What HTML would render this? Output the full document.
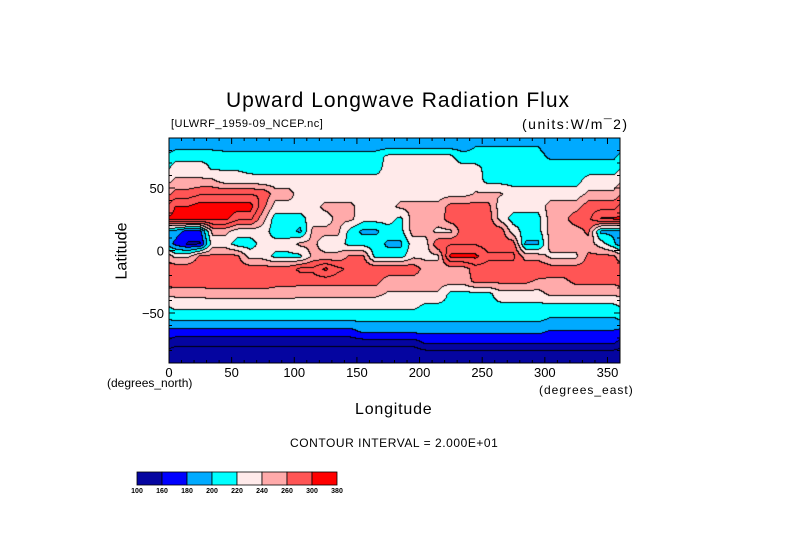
<!DOCTYPE html>
<html><head><meta charset="utf-8"><style>
body{margin:0;background:#fff;width:789px;height:558px;overflow:hidden;position:relative;font-family:"Liberation Sans",sans-serif;color:#000}
.t{position:absolute;white-space:nowrap;line-height:1}
</style></head><body>
<div class="t" style="left:226px;top:90px;font-size:21px;letter-spacing:1px">Upward Longwave Radiation Flux</div>
<div class="t" style="left:171px;top:119px;font-size:11px;letter-spacing:0.5px">[ULWRF_1959-09_NCEP.nc]</div>
<div class="t" style="left:522px;top:117px;font-size:14px;letter-spacing:1.5px">(units:W/m¯2)</div>
<div class="t" style="left:85px;top:243px;font-size:16px;transform:rotate(-90deg);transform-origin:center;width:75px;text-align:center">Latitude</div>
<div class="t" style="left:355px;top:402px;font-size:16px;letter-spacing:0.8px">Longitude</div>
<div class="t" style="left:107px;top:377px;font-size:12px">(degrees_north)</div>
<div class="t" style="left:539px;top:384px;font-size:12px;letter-spacing:1px">(degrees_east)</div>
<div class="t" style="left:290px;top:437px;font-size:12px;letter-spacing:0.55px">CONTOUR INTERVAL = 2.000E+01</div>
<canvas id="map" width="451" height="225" style="position:absolute;left:169px;top:138px"></canvas>
<svg id="ov" width="789" height="558" style="position:absolute;left:0;top:0"></svg>
<script>
// latitude rows (north to south), longitude runs [value, count of 10° cells]
const lats=[85,75,65,55,45,35,25,15,5,-5,-15,-25,-35,-45,-55,-65,-75,-85];
const lonCenters=[5,15,25,35,45,55,65,75,85,95,105,115,125,135,145,155,165,175,185,195,205,215,225,235,245,255,265,275,285,295,305,315,325,335,345,355];
const r85=[[185,24],[198,6],[185,6]];
const r75=[[215,4],[210,13],[224,6],[208,7],[195,6]];
const r65=[[228,3],[218,3],[212,11],[228,8],[212,11]];
const r55=[[245,4],[232,3],[228,10],[230,8],[214,8],[228,3]];
const r45=[[268,2],[278,6],[250,2],[230,7],[232,7],[242,3],[228,6],[245,3]];
const r35=[[300,2],[310,5],[268,1],[232,4],[245,3],[232,3],[245,4],[268,4],[228,4],[250,3],[272,3]];
const r25=[[306,5],[285,2],[248,1],[210,3],[232,2],[245,2],[228,3],[215,1],[248,3],[272,4],[232,1],[212,3],[250,2],[275,2],[302,2]];
const r15=[[190,1],[172,2],[245,2],[230,3],[210,2],[195,1],[245,3],[212,1],[195,2],[212,2],[248,2],[235,2],[272,4],[230,1],[212,2],[248,3],[265,1],[195,2]];
const r05=[[175,1],[158,2],[230,2],[210,2],[228,3],[245,2],[230,2],[212,3],[195,2],[230,2],[278,4],[270,3],[195,2],[250,4],[230,1],[205,1]];
const rm05=[[235,2],[265,4],[232,2],[215,3],[245,3],[265,2],[212,3],[235,3],[305,3],[285,3],[250,2],[235,3],[265,3]];
const rm15=[[275,5],[270,5],[285,2],[305,1],[285,1],[275,6],[250,4],[270,4],[280,2],[270,6]];
const rm25=[[275,8],[268,9],[248,7],[265,5],[255,3],[265,4]];
const rm35=[[245,3],[250,7],[245,7],[238,5],[214,4],[232,4],[245,6]];
const rm45=[[226,20],[214,16]];
const rm55=[[205,30],[198,6]];
const rm65=[[172,15],[185,15],[178,6]];
const rm75=[[145,20],[160,16]];
const rm85=[[120,36]];
const rows=[r85,r75,r65,r55,r45,r35,r25,r15,r05,rm05,rm15,rm25,rm35,rm45,rm55,rm65,rm75,rm85];
// colour bands
const bandEdges=[100,160,180,200,220,240,260,300,380];
const bandColors=["#0505a0","#0000ff","#00aaff","#00ffff","#ffeaea","#ffaaaa","#ff5555","#ff0000"];
const barLabels=["100","160","180","200","220","240","260","300","380"];

const X0=169,X1=620,Y0=138,Y1=363;
const xs=lon=>X0+(lon/360)*(X1-X0);
const ys=lat=>Y0+(90-lat)/180*(Y1-Y0);
const grid=rows.map(r=>{const a=[];r.forEach(([v,n])=>{for(let k=0;k<n;k++)a.push(v)});return a;});
function val(lon,lat){
  let fi=(lon-lonCenters[0])/10; let fj=(lats[0]-lat)/10;
  fj=Math.max(0,Math.min(lats.length-1,fj));
  const i0=Math.floor(fi),j0=Math.min(lats.length-2,Math.floor(fj));
  const tx=fi-i0,ty=fj-j0,n=lonCenters.length;
  const a=(i0%n+n)%n,b=(a+1)%n;
  const g=(j,i)=>grid[j][i];
  return (g(j0,a)*(1-tx)+g(j0,b)*tx)*(1-ty)+(g(j0+1,a)*(1-tx)+g(j0+1,b)*tx)*ty;
}
const cv=document.getElementById('map'),ctx=cv.getContext('2d');
const W=cv.width,H=cv.height,img=ctx.createImageData(W,H);
const lvl=new Int16Array(W*H);
function hex(c){return [parseInt(c.substr(1,2),16),parseInt(c.substr(3,2),16),parseInt(c.substr(5,2),16)];}
const rgb=bandColors.map(hex);
for(let y=0;y<H;y++)for(let x=0;x<W;x++){
  const lon=(x+0.5)/W*360,lat=90-(y+0.5)/H*180,v=val(lon,lat);
  let b=0;for(let k=1;k<bandEdges.length-1;k++)if(v>=bandEdges[k])b=k;
  lvl[y*W+x]=Math.floor(v/20);
  const p=(y*W+x)*4;img.data[p]=rgb[b][0];img.data[p+1]=rgb[b][1];img.data[p+2]=rgb[b][2];img.data[p+3]=255;
}
for(let y=0;y<H;y++)for(let x=0;x<W;x++){
  const l=lvl[y*W+x];
  if((x+1<W&&lvl[y*W+x+1]!==l)||(y+1<H&&lvl[(y+1)*W+x]!==l)){const p=(y*W+x)*4;img.data[p]=0;img.data[p+1]=0;img.data[p+2]=0;}
}
ctx.putImageData(img,0,0);

const svg=document.getElementById('ov'),NS="http://www.w3.org/2000/svg";
function mk(tag,at,txt){const e=document.createElementNS(NS,tag);for(const k in at)e.setAttribute(k,at[k]);if(txt!==undefined)e.textContent=txt;svg.appendChild(e);return e;}
let e=mk('rect',{x:X0,y:Y0,width:X1-X0,height:Y1-Y0,fill:'none',stroke:'#000','stroke-width':1});


const xTicks=[0,50,100,150,200,250,300,350],yTicks=[50,0,-50];
for(let lon=0;lon<=360;lon+=10){const big=lon%50===0;
  mk('line',{x1:xs(lon),x2:xs(lon),y1:Y1,y2:Y1-(big?6:3),stroke:'#000'});
  mk('line',{x1:xs(lon),x2:xs(lon),y1:Y0,y2:Y0+(big?6:3),stroke:'#000'});}
for(let lat=-90;lat<=90;lat+=10){const big=lat%50===0;
  mk('line',{x1:X0,x2:X0+(big?6:3),y1:ys(lat),y2:ys(lat),stroke:'#000'});
  mk('line',{x1:X1,x2:X1-(big?6:3),y1:ys(lat),y2:ys(lat),stroke:'#000'});}
xTicks.forEach(t=>{const el=mk('text',{x:xs(t),y:Y1+14,'font-size':13,'text-anchor':'middle','font-family':'Liberation Sans'},String(t));

});
yTicks.forEach(t=>{const el=mk('text',{x:X0-5,y:ys(t)+5,'font-size':13,'text-anchor':'end','font-family':'Liberation Sans'},t<0?'−'+(-t):String(t));

});
// colour bar
const CB0=137,CB1=337,CBY=472,CBH=13,cw=(CB1-CB0)/bandColors.length;
bandColors.forEach((c,i)=>{const el=mk('rect',{x:CB0+i*cw,y:CBY,width:cw,height:CBH,fill:c,stroke:'#000','stroke-width':0.8});

});
barLabels.forEach((l,i)=>{const el=mk('text',{x:CB0+i*cw,y:CBY+CBH+8,'font-size':7,'font-weight':'bold','text-anchor':'middle','font-family':'Liberation Sans'},l);

});
</script>
</body></html>
